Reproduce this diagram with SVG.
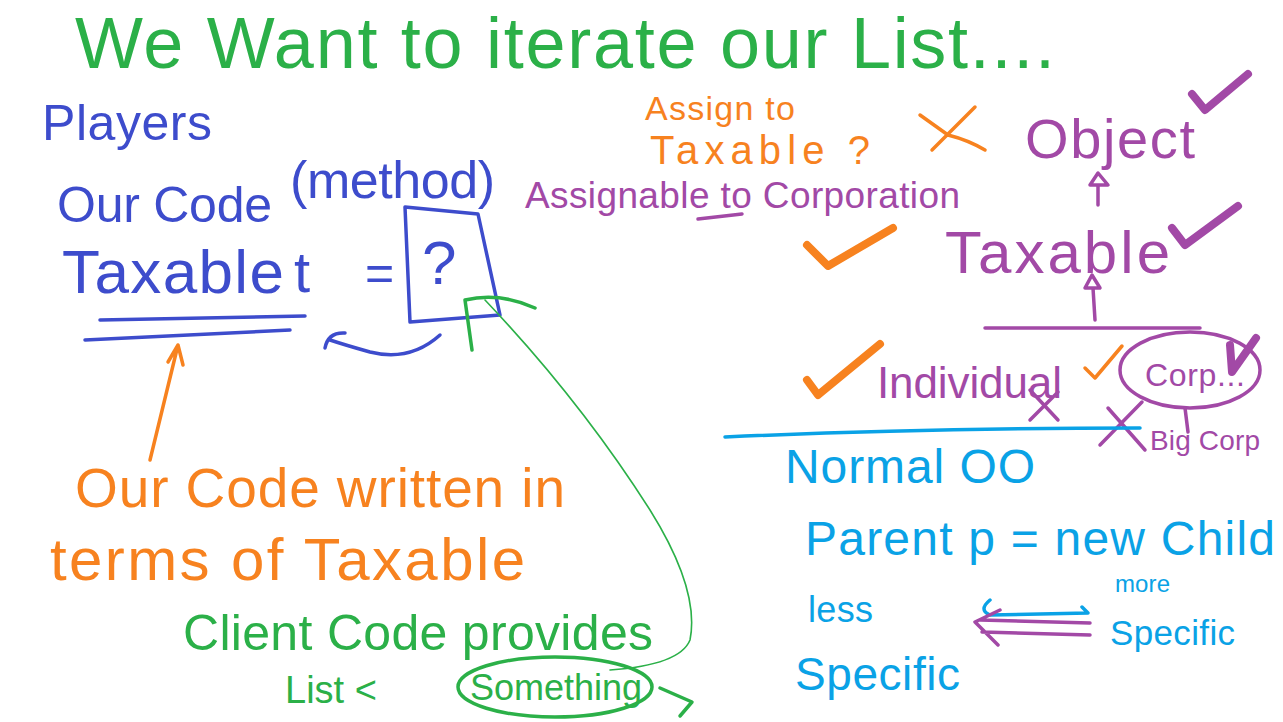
<svg xmlns="http://www.w3.org/2000/svg" width="1283" height="722" viewBox="0 0 1283 722">
<style>
text{font-family:"Liberation Sans","DejaVu Sans",sans-serif}
.g{fill:#2bb048}.b{fill:#3d4ccc}.o{fill:#f7821f}.p{fill:#a249a6}.c{fill:#0aa2e6}
.sg{stroke:#2bb048}.sb{stroke:#3d4ccc}.so{stroke:#f7821f}.sp{stroke:#a249a6}.sc{stroke:#0aa2e6}
.ln{fill:none;stroke-width:3.5;stroke-linecap:round;stroke-linejoin:round}
.thin{fill:none;stroke-width:1.6;stroke-linecap:round}
.chk{fill:none;stroke-width:8;stroke-linecap:round;stroke-linejoin:round}
</style>
<rect width="1283" height="722" fill="#ffffff"/>

<g id="title"><text class="g" x="75" y="68" font-size="72" textLength="980" lengthAdjust="spacing">We Want to iterate our List....</text></g>

<g id="players"><text class="b" x="42" y="140" font-size="50" textLength="170" lengthAdjust="spacing">Players</text></g>
<g id="our-code">
<text class="b" x="57" y="222" font-size="50" textLength="215" lengthAdjust="spacing">Our Code</text>
<text class="b" x="290" y="198" font-size="52" textLength="205" lengthAdjust="spacing">(method)</text>
</g>
<g id="taxable-decl">
<text class="b" x="62" y="293" font-size="62" textLength="222" lengthAdjust="spacing">Taxable</text>
<path class="ln sb" d="M100 320 L305 316 M85 340 L290 330"/>
<text class="b" x="294" y="292" font-size="58">t</text>
<text class="b" x="365" y="290" font-size="50">=</text>
</g>
<g id="box">
<path class="ln sb" d="M405 207 L478 214 L500 315 L410 322 Z"/>
<text class="b" x="422" y="284" font-size="62">?</text>
</g>

<g id="orange-note">
<text class="o" x="75" y="507" font-size="55" textLength="490" lengthAdjust="spacing">Our Code written in</text>
<text class="o" x="50" y="580" font-size="60" textLength="475" lengthAdjust="spacing">terms of Taxable</text>
</g>

<g id="client-code">
<text class="g" x="183" y="650" font-size="50" textLength="470" lengthAdjust="spacing">Client Code provides</text>
<text class="g" x="285" y="703" font-size="38">List &lt;</text>
<ellipse class="ln sg" cx="555" cy="687" rx="97" ry="30" stroke-width="2.5"/>
<text class="g" x="470" y="700" font-size="36" textLength="172" lengthAdjust="spacing">Something</text>
</g>

<g id="assign-question">
<text class="o" x="645" y="120" font-size="34" textLength="150" lengthAdjust="spacing">Assign to</text>
<text class="o" x="650" y="164" font-size="40" textLength="220" lengthAdjust="spacing">Taxable ?</text>
<path class="ln so" d="M920 115 L948 135 Q968 140 985 150 M975 107 L932 150"/>
</g>
<g id="assignable"><text class="p" x="525" y="208" font-size="37" textLength="435" lengthAdjust="spacing">Assignable to Corporation</text>
<path class="ln sp" d="M698 219 L742 214" stroke-width="5"/>
<path class="chk so" d="M807 245 L828 266 L893 228"/>
</g>

<g id="object"><text class="p" x="1025" y="158" font-size="56" textLength="170" lengthAdjust="spacing">Object</text>
<path class="chk sp" d="M1192 94 L1205 110 L1248 74"/></g>
<g id="taxable"><text class="p" x="945" y="273" font-size="60" textLength="225" lengthAdjust="spacing">Taxable</text>
<path class="chk sp" d="M1172 228 L1185 245 L1238 206"/></g>
<g id="individual"><text class="p" x="877" y="398" font-size="44" textLength="185" lengthAdjust="spacing">Individual</text>
<path class="chk so" d="M807 380 L818 395 L880 344"/>
<path class="ln sp" d="M1030 390 L1058 420 M1058 392 L1030 420" stroke-width="5"/></g>
<g id="corp"><ellipse class="ln sp" cx="1190" cy="370" rx="70" ry="38" stroke-width="2.5"/>
<text class="p" x="1145" y="386" font-size="32" textLength="100" lengthAdjust="spacing">Corp...</text>
<path class="ln so" d="M1085 368 L1095 378 L1122 346" stroke-width="4"/>
<path class="chk sp" d="M1230 345 L1232 372 L1256 338" stroke-width="6"/></g>
<g id="bigcorp"><text class="p" x="1150" y="450" font-size="28" textLength="110" lengthAdjust="spacing">Big Corp</text>
<path class="ln sp" d="M1100 445 L1142 402 M1108 408 L1145 450" stroke-width="6"/></g>

<g id="normal-oo">
<path class="ln sc" d="M725 437 Q930 428 1140 428"/>
<text class="c" x="785" y="483" font-size="48" textLength="250" lengthAdjust="spacing">Normal OO</text>
<text class="c" x="805" y="555" font-size="48" textLength="470" lengthAdjust="spacing">Parent p = new Child</text>
<text class="c" x="808" y="622" font-size="36" textLength="65" lengthAdjust="spacing">less</text>
<text class="c" x="795" y="690" font-size="46" textLength="165" lengthAdjust="spacing">Specific</text>
<text class="c" x="1115" y="592" font-size="24" textLength="55" lengthAdjust="spacing">more</text>
<text class="c" x="1110" y="645" font-size="35" textLength="125" lengthAdjust="spacing">Specific</text>
</g>

<g id="connectors">
<path class="ln sb" d="M440 335 Q410 362 370 352 Q345 345 330 340 M325 348 Q328 332 345 333"/>
<path class="ln so" d="M150 460 L178 345 M168 362 L178 345 L183 365"/>
<path class="ln sg" d="M472 350 L465 300 Q500 292 535 308"/>
<path class="thin sg" d="M485 300 Q580 400 650 510 Q700 590 690 640 Q680 665 610 670"/>
<path class="ln sg" d="M660 688 L692 702 L680 716" stroke-width="2.5"/>
<path class="ln sp" d="M1098 185 L1098 205 M1090 185 L1098 173 L1108 185 Z" stroke-width="2.5"/>
<path class="ln sp" d="M1093 288 L1095 320 M1085 288 L1092 275 L1100 288 Z" stroke-width="2.5"/>
<path class="ln sp" d="M985 328 L1200 328" stroke-width="2.5"/>
<path class="ln sp" d="M1185 408 L1188 432" stroke-width="2.5"/>
<path class="ln sc" d="M990 600 Q978 610 990 615 L1088 613 L1082 607" stroke-width="2.5"/>
<path class="ln sp" d="M1090 623 L980 620 M1090 635 L982 632 M1000 610 L975 622 L998 645" stroke-width="5"/>
</g>
</svg>
